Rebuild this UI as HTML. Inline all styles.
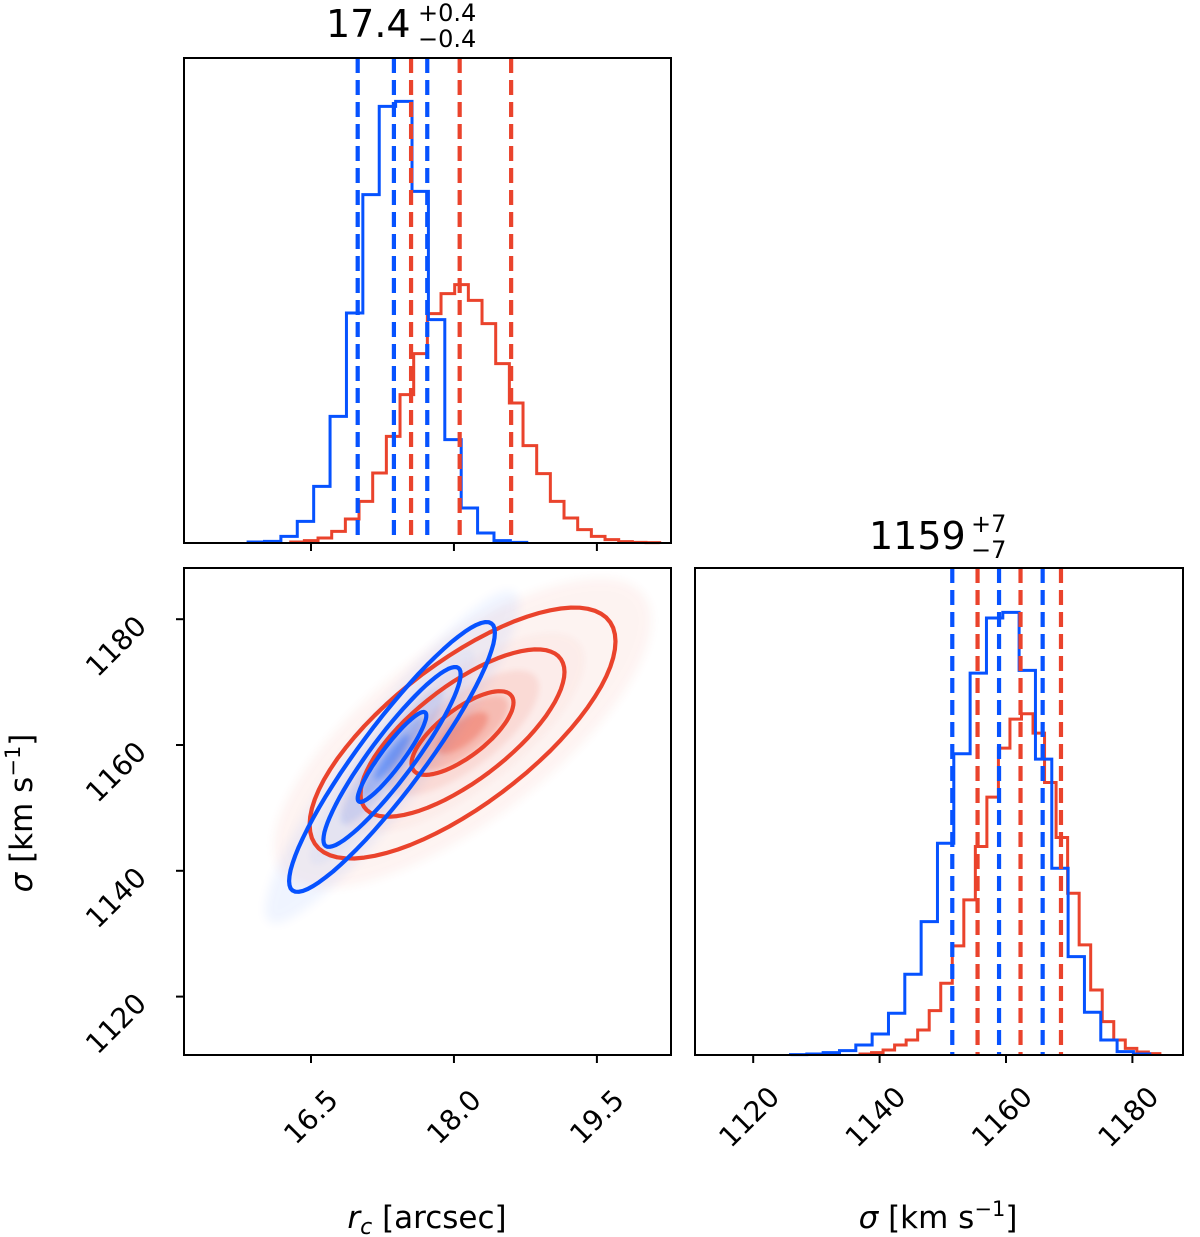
<!DOCTYPE html>
<html><head><meta charset="utf-8"><style>
html,body{margin:0;padding:0;background:#fff;}
svg{display:block;font-family:"DejaVu Sans","Liberation Sans",sans-serif;}
</style></head><body>
<svg id="fig" width="1200" height="1237" viewBox="0 0 1200 1237" xmlns="http://www.w3.org/2000/svg">
<defs>
<filter id="blur6" x="-50%" y="-50%" width="200%" height="200%"><feGaussianBlur stdDeviation="5"/></filter>
<filter id="blur3" x="-50%" y="-50%" width="200%" height="200%"><feGaussianBlur stdDeviation="3"/></filter>
<clipPath id="clip2d"><rect x="184" y="568" width="487" height="487"/></clipPath>
</defs>
<g id="density" clip-path="url(#clip2d)"></g>
<g id="contours" clip-path="url(#clip2d)"></g>
<g id="hists"></g>
<g id="axes"></g>

<text x="326" y="37" font-size="38">17.4</text>
<text x="418" y="21" font-size="24">+0.4</text>
<text x="418" y="47" font-size="24">−0.4</text>
<text x="869" y="549" font-size="38">1159</text>
<text x="971" y="532" font-size="24">+7</text>
<text x="971" y="558" font-size="24">−7</text>

<text x="427" y="1228" font-size="31" text-anchor="middle"><tspan font-style="italic">r</tspan><tspan font-style="italic" font-size="22" dy="6">c</tspan><tspan dy="-6"> [arcsec]</tspan></text>
<text x="938" y="1228" font-size="31" text-anchor="middle"><tspan font-style="italic">σ</tspan> [km s<tspan font-size="21" dy="-12">−1</tspan><tspan dy="12">]</tspan></text>
<text transform="translate(32,813) rotate(-90)" font-size="31" text-anchor="middle"><tspan font-style="italic">σ</tspan> [km s<tspan font-size="21" dy="-12">−1</tspan><tspan dy="12">]</tspan></text>
</svg>
<script>
// ---- data ----
const rcTicks = [16.5, 18.0, 19.5];
const rcTickLabels = ["16.5", "18.0", "19.5"];
const sigTicks = [1120, 1140, 1160, 1180];
const sigTickLabels = ["1120", "1140", "1160", "1180"];

const rcBlueStart = 15.84, rcBlueWidth = 0.172;
const rcBlueCounts = [3,5,20,65,170,380,690,1045,1310,1325,1055,670,310,105,30,7,2];
const rcRedStart = 16.287, rcRedWidth = 0.1434;
const rcRedCounts = [3,7,15,35,72,125,210,320,445,568,688,748,775,728,658,538,420,292,208,125,75,40,20,10,4,2,1];

const sigBlueStart = 1125.9, sigBlueWidth = 2.584;
const sigBlueCounts = [1,3,7,13,30,63,125,242,400,635,903,1145,1310,1327,1153,887,560,295,128,45,10,3];
const sigRedStart = 1136.9, sigRedWidth = 1.825;
const sigRedCounts = [3,7,15,30,45,75,133,215,327,465,625,773,920,1007,1023,965,817,652,485,330,195,100,45,20,9,4];

const rcBlueQuantiles = [16.99, 17.37, 17.72];
const rcRedQuantiles = [17.55, 18.06, 18.60];
const sigBlueQuantiles = [1151.5, 1158.9, 1165.8];
const sigRedQuantiles = [1155.5, 1162.3, 1168.7];

// 2D gaussian summaries [meanRc, meanSigma, sdRc, sdSigma, rho]
const blue2d = [17.35, 1158.1, 0.72, 14.3, 0.92];
const red2d = [18.09, 1161.9, 1.07, 13.3, 0.73];
const contourLevels = [0.5, 1.0, 1.5];

// ---- scales ----
const xRc = v => 311 + (v - 16.5) * 95.3;
const ySig = v => 745 - (v - 1160) * 6.29;
const xSig = v => 1006 + (v - 1160) * 6.32;
const yTopHist = v => 543 - v / 1455 * 485;
const yBrHist = v => 1055 - v / 1460 * 487;

const NS = "http://www.w3.org/2000/svg";
const BLUE = "#0652ff", RED = "#ea432c";
function mk(tag, attrs, parent){
  const e = document.createElementNS(NS, tag);
  for (const k in attrs) e.setAttribute(k, attrs[k]);
  parent.appendChild(e); return e;
}
const hists = document.getElementById('hists');
const axes = document.getElementById('axes');

function stepPath(start, width, counts, xs, ys){
  let d = `M${xs(start)},${ys(0)}`;
  counts.forEach((c,i)=>{
    const x0 = xs(start + i*width), x1 = xs(start + (i+1)*width);
    d += ` L${x0},${ys(c)} L${x1},${ys(c)}`;
  });
  d += ` L${xs(start + counts.length*width)},${ys(0)}`;
  return d;
}
function drawHist(start, width, counts, xs, ys, color, name){
  const p = mk('path', {d: stepPath(start,width,counts,xs,ys), fill:'none', stroke:color, 'stroke-width':3}, hists);
  
  
}
function drawQuant(vals, xs, y0, y1, color, name){
  vals.forEach(v=>{
    const l = mk('line', {x1:xs(v), x2:xs(v), y1:y0, y2:y1, stroke:color, 'stroke-width':4.2, 'stroke-dasharray':'15,7'}, hists);
    
    
  });
}
drawHist(rcRedStart, rcRedWidth, rcRedCounts, xRc, yTopHist, RED, 'hist-rc-red');
drawHist(rcBlueStart, rcBlueWidth, rcBlueCounts, xRc, yTopHist, BLUE, 'hist-rc-blue');
drawQuant(rcBlueQuantiles, xRc, 58, 543, BLUE, 'quantile-rc-blue');
drawQuant(rcRedQuantiles, xRc, 58, 543, RED, 'quantile-rc-red');
drawHist(sigRedStart, sigRedWidth, sigRedCounts, xSig, yBrHist, RED, 'hist-sigma-red');
drawHist(sigBlueStart, sigBlueWidth, sigBlueCounts, xSig, yBrHist, BLUE, 'hist-sigma-blue');
drawQuant(sigBlueQuantiles, xSig, 568, 1055, BLUE, 'quantile-sigma-blue');
drawQuant(sigRedQuantiles, xSig, 568, 1055, RED, 'quantile-sigma-red');

// ---- 2D ----
function ellipsePts(g, k){
  const [mx,my,sx,sy,r] = g; const pts=[];
  for (let i=0;i<72;i++){
    const t = i/72*2*Math.PI;
    const dx = k*sx*Math.cos(t);
    const dy = k*sy*(r*Math.cos(t) + Math.sqrt(1-r*r)*Math.sin(t));
    pts.push(xRc(mx+dx).toFixed(1)+','+ySig(my+dy).toFixed(1));
  }
  return pts.join(' ');
}
const dens = document.getElementById('density');
const cont = document.getElementById('contours');
function drawDensity(g, color, name, haze){
  const h = mk('polygon', {points: ellipsePts(g, 1.85), fill: color, opacity: haze, filter:'url(#blur6)'}, dens);
  
  
  [[1.2,0.03],[0.75,0.1],[0.45,0.2],[0.25,0.3]].forEach(([k,o])=>{
    const e = mk('polygon', {points: ellipsePts(g, k), fill: color, opacity: o, filter:'url(#blur3)'}, dens);
    
    
  });
}
drawDensity(red2d, RED, 'red', 0.06);
drawDensity(blue2d, BLUE, 'blue', 0.06);
function drawContours(g, color, name){
  contourLevels.forEach(k=>{
    const e = mk('polygon', {points: ellipsePts(g, k), fill:'none', stroke: color, 'stroke-width':4.2, 'stroke-linejoin':'round'}, cont);
    
    
  });
}
drawContours(red2d, RED, 'red');
drawContours(blue2d, BLUE, 'blue');

// ---- axes ----
function frame(x,y,w,h,name){
  const r = mk('rect', {x:x, y:y, width:w, height:h, fill:'none', stroke:'#000', 'stroke-width':2}, axes);
  
  
}
frame(184,58,487,485,'panel-rc-hist');
frame(184,568,487,487,'panel-2d');
frame(695,568,488,487,'panel-sigma-hist');

rcTicks.forEach((v,i)=>{
  mk('line',{x1:xRc(v),x2:xRc(v),y1:543,y2:551,stroke:'#000','stroke-width':2},axes);
  const t = mk('line',{x1:xRc(v),x2:xRc(v),y1:1055,y2:1063,stroke:'#000','stroke-width':2},axes);
  
  
  const lb = mk('text',{transform:`translate(${xRc(v)},1117) rotate(-45)`,'text-anchor':'middle','dominant-baseline':'central','font-size':28},axes);
  lb.textContent = rcTickLabels[i];
  
  
});
sigTicks.forEach((v,i)=>{
  const t = mk('line',{x1:176,x2:184,y1:ySig(v),y2:ySig(v),stroke:'#000','stroke-width':2},axes);
  
  
  const lb = mk('text',{transform:`translate(116,${ySig(v)+27}) rotate(-45)`,'text-anchor':'middle','dominant-baseline':'central','font-size':28},axes);
  lb.textContent = sigTickLabels[i];
  
  
  const t2 = mk('line',{x1:xSig(v),x2:xSig(v),y1:1055,y2:1063,stroke:'#000','stroke-width':2},axes);
  
  
  const lb2 = mk('text',{transform:`translate(${xSig(v)-4},1117) rotate(-45)`,'text-anchor':'middle','dominant-baseline':'central','font-size':28},axes);
  lb2.textContent = sigTickLabels[i];
  
  
});
</script>
</body></html>
